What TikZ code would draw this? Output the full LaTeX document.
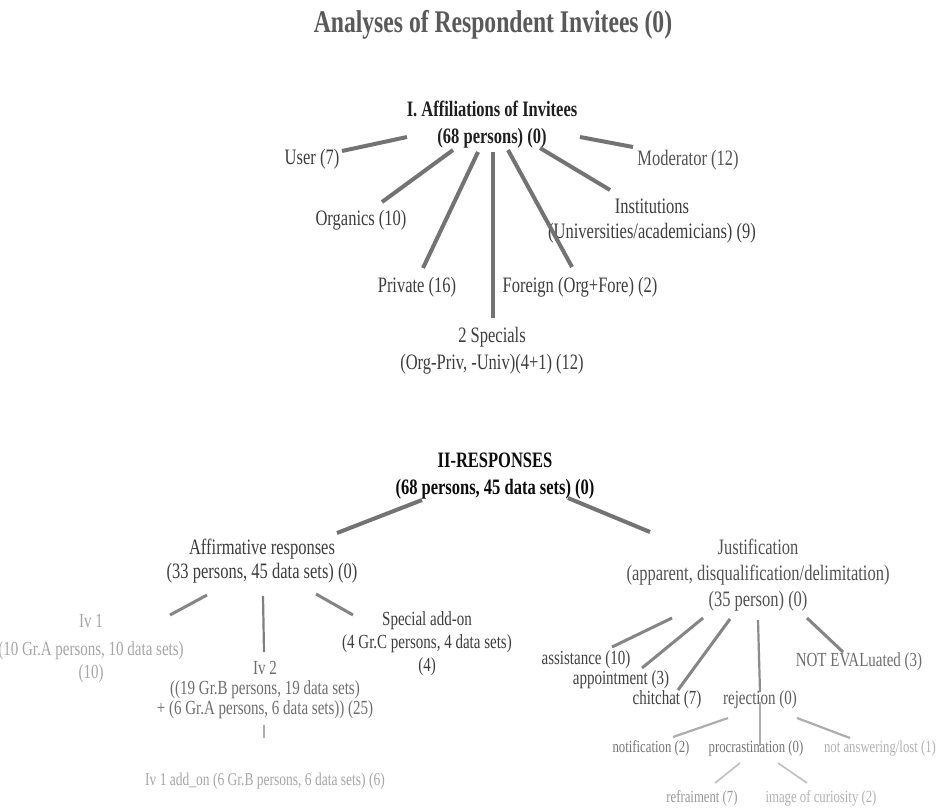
\documentclass[tikz,border=0pt]{standalone}
\usepackage{fontspec}
\setmainfont{Liberation Serif}[FakeStretch=0.75]
\usepackage{xcolor}
\usepackage{tikz}
\usetikzlibrary{positioning}

\begin{document}
\begin{tikzpicture}[x=1pt, y=-1pt,
  every node/.style={inner sep=0pt, align=center},
  ttl/.style={font=\fontsize{31.5}{36}\selectfont\bfseries, text=black!65},
  hd/.style={font=\fontsize{22}{27}\selectfont\bfseries, text=black!88},
  itm/.style={font=\fontsize{22}{25}\selectfont, text=black!76},
  sub/.style={font=\fontsize{20}{23}\selectfont, text=black!74},
  low/.style={font=\fontsize{17}{20}\selectfont, text=black!54},
  br/.style={line width=4pt, black!55},
  brb/.style={line width=3pt, black!48},
  brc/.style={line width=2.2pt, black!32},
  brd/.style={line width=1.6pt, black!25}]
\useasboundingbox[fill=white] (0,0) rectangle (944,807);

\node[ttl] (title) at (493,25) {Analyses of Respondent Invitees (0)};

\node[hd] (affil) at (492,125) {I. Affiliations of Invitees\\(68 persons) (0)};
\node[itm] (user) at (312,159) {User (7)};
\node[itm, text=black!68] (moder) at (688,160) {Moderator (12)};
\node[itm] (organ) at (361,220) {Organics (10)};
\node[itm] (instit) at (652,221) {Institutions\\(Universities/academicians) (9)};
\node[itm] (priv) at (417,287) {Private (16)};
\node[itm] (foreign) at (580,287) {Foreign (Org+Fore) (2)};
\node[itm] (spec) at (492,351) {2 Specials\\[2pt](Org-Priv, -Univ)(4+1) (12)};

\draw[br] ([shift={(-85,12)}]affil.center) -- ([shift={(30,-8)}]user.center);
\draw[br] ([shift={(88,12)}]affil.center) -- ([shift={(-55,-13)}]moder.center);
\draw[br] ([shift={(-39,25)}]affil.center) -- ([shift={(21,-18)}]organ.center);
\draw[br] ([shift={(-14,27)}]affil.center) -- ([shift={(6,-19)}]priv.center);
\draw[br] ([shift={(1,27)}]affil.center) -- ([shift={(1,-33)}]spec.center);
\draw[br] ([shift={(16,25)}]affil.center) -- ([shift={(-8,-20)}]foreign.center);
\draw[br] ([shift={(48,23)}]affil.center) -- ([shift={(-42,-31)}]instit.center);

\node[hd, text=black!95] (resp) at (495,476) {II-RESPONSES\\(68 persons, 45 data sets) (0)};
\node[itm] (affirm) at (262,561) {Affirmative responses\\[-1pt](33 persons, 45 data sets) (0)};
\node[itm, text=black!68, font=\fontsize{22}{26}\selectfont] (justif) at (758,575) {Justification\\(apparent, disqualification/delimitation)\\(35 person) (0)};

\draw[br] ([shift={(-73,24)}]resp.center) -- ([shift={(75,-28)}]affirm.center);
\draw[br] ([shift={(73,22)}]resp.center) -- ([shift={(-108,-43)}]justif.center);

\node[sub, text=black!35] (ivone) at (91,649) {Iv 1\\[5pt](10 Gr.A persons, 10 data sets)\\(10)};
\node[sub, text=black!57, font=\fontsize{20}{20}\selectfont] (ivtwo) at (265,690) {Iv 2\\((19 Gr.B persons, 19 data sets)\\+ (6 Gr.A persons, 6 data sets)) (25)};
\node[sub, text=black!76] (addon) at (427,644) {Special add-on\\(4 Gr.C persons, 4 data sets)\\(4)};
\node[low, font=\fontsize{18}{21}\selectfont, text=black!35] (ivadd) at (265,781) {Iv 1 add\_on (6 Gr.B persons, 6 data sets) (6)};

\draw[brb] ([shift={(-55,34)}]affirm.center) -- ([shift={(79,-34)}]ivone.center);
\draw[brc, black!50] ([shift={(1,35)}]affirm.center) -- ([shift={(-1,-38)}]ivtwo.center);
\draw[brb] ([shift={(54,33)}]affirm.center) -- ([shift={(-74,-29)}]addon.center);
\draw[brc] ([shift={(-1,35)}]ivtwo.center) -- ([shift={(-1,-43)}]ivadd.center);

\node[sub] (assist) at (586,660) {assistance (10)};
\node[sub] (appoint) at (621,680) {appointment (3)};
\node[sub] (chit) at (667,700) {chitchat (7)};
\node[sub, text=black!64] (reject) at (760,700) {rejection (0)};
\node[sub, text=black!57] (noteval) at (859,662) {NOT EVALuated (3)};

\draw[brb] ([shift={(-86,43)}]justif.center) -- ([shift={(26,-13)}]assist.center);
\draw[brb] ([shift={(-55,43)}]justif.center) -- ([shift={(21,-12)}]appoint.center);
\draw[brb] ([shift={(-28,44)}]justif.center) -- ([shift={(11,-10)}]chit.center);
\draw[brc, black!45] ([shift={(0,45)}]justif.center) -- ([shift={(0,-8)}]reject.center);
\draw[brb] ([shift={(49,43)}]justif.center) -- ([shift={(-16,-10)}]noteval.center);

\node[low] (notif) at (651,748) {notification (2)};
\node[low] (procr) at (756,748) {procrastination (0)};
\node[low, text=black!30] (notans) at (880,748) {not answering/lost (1)};

\draw[brc] ([shift={(-32,18)}]reject.center) -- ([shift={(22,-11)}]notif.center);
\draw[brc] ([shift={(0,2)}]reject.center) -- ([shift={(4,-2)}]procr.center);
\draw[brc] ([shift={(37,18)}]reject.center) -- ([shift={(-30,-10)}]notans.center);

\node[low, text=black!40] (refr) at (702,798) {refraiment (7)};
\node[low, text=black!30] (curio) at (821,798) {image of curiosity (2)};

\draw[brd] ([shift={(-16,15)}]procr.center) -- ([shift={(13,-15)}]refr.center);
\draw[brd] ([shift={(22,15)}]procr.center) -- ([shift={(-14,-15)}]curio.center);
\end{tikzpicture}
\end{document}
